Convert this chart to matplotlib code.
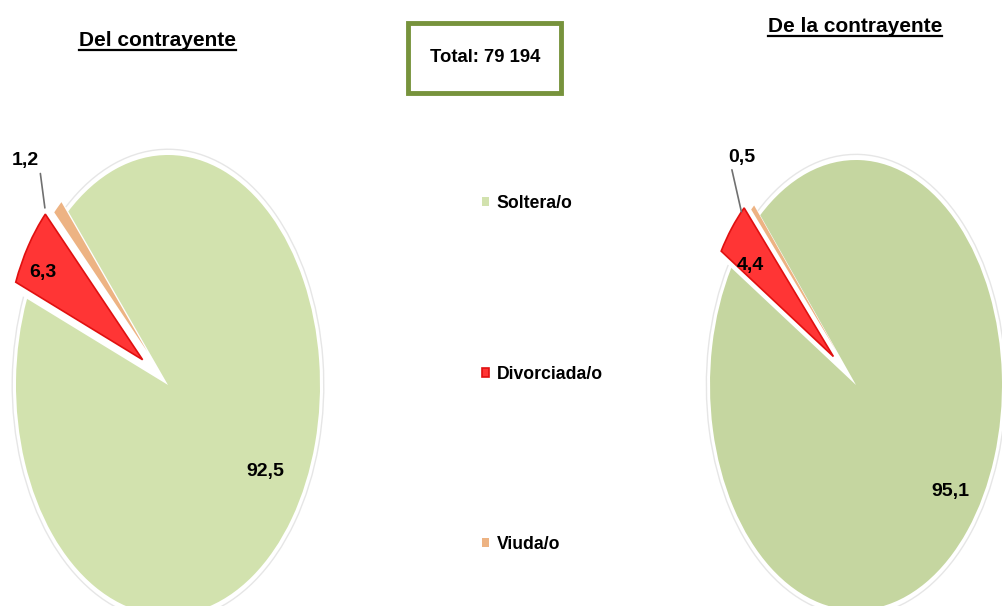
import matplotlib
matplotlib.use("Agg")
import matplotlib.pyplot as plt
from matplotlib.patches import Rectangle, Arc
from matplotlib.lines import Line2D
import numpy as np

# datos
categorias = ["Soltera/o", "Divorciada/o", "Viuda/o"]
del_contrayente = [92.5, 6.3, 1.2]
de_la_contrayente = [95.1, 4.4, 0.5]
etiquetas_izq = ["92,5", "6,3", "1,2"]
etiquetas_der = ["95,1", "4,4", "0,5"]
titulo_izq = "Del contrayente"
titulo_der = "De la contrayente"
total = "Total: 79 194"

W, H = 1003, 606
fuente = ["Liberation Sans", "DejaVu Sans"]
rojo = "#FF3535"
naranja = "#EDB383"

fig = plt.figure(figsize=(W / 100, H / 100), dpi=100)


def px(x, y):
    return x / W, 1 - y / H


def tarta(cx, cy, rx, ry, valores, etiquetas, verde, pos_etq, lineas):
    ax = fig.add_axes([(cx - rx) / W, 1 - (cy + ry) / H, 2 * rx / W, 2 * ry / H])
    wedges, _ = ax.pie(valores, colors=[verde, rojo, naranja], startangle=131,
                       counterclock=False, explode=[0, 0.2, 0.2],
                       wedgeprops=dict(linewidth=0))
    wedges[1].set_edgecolor("#E01010")
    wedges[1].set_linewidth(1.2)
    wedges[1].set_radius(0.9)
    wedges[2].set_radius(0.86)
    for w in wedges:
        w.set_clip_on(False)
    # borde gris tenue alrededor de la porción grande
    g = wedges[0]
    arco = Arc((0, 0), 2.05, 2.05, theta1=g.theta1, theta2=g.theta2,
               color="#E6E6E6", lw=1.0, clip_on=False)
    ax.add_patch(arco)
    ax.set_aspect("auto")
    ax.set_xlim(-1, 1)
    ax.set_ylim(-1, 1)
    ax.axis("off")
    for w, txt, (r, dt), linea in zip(wedges, etiquetas, pos_etq, lineas):
        ang = np.deg2rad((w.theta1 + w.theta2) / 2 + dt)
        cx0, cy0 = w.center
        pos = (cx0 + r * np.cos(ang), cy0 + r * np.sin(ang))
        if linea is None:
            ax.text(*pos, txt, ha="center", va="center", fontsize=14,
                    fontweight="bold", family=fuente, color="black")
        else:
            xy, rel = linea
            ax.annotate(txt, xy=xy, xytext=pos, ha="center", va="center",
                        fontsize=14, fontweight="bold", family=fuente,
                        arrowprops=dict(arrowstyle="-", color="#707070", lw=1.2,
                                        shrinkA=1, shrinkB=0, relpos=rel),
                        annotation_clip=False)
    return ax, wedges


ax1, w1 = tarta(168, 385, 152, 230, del_contrayente, etiquetas_izq, "#D2E2AE",
                [(0.74, 5), (0.76, 3.5), (1.155, 1)],
                [None, None, ((-0.81, 0.77), (1.05, 0.0))])
ax2, w2 = tarta(856, 385, 146, 225, de_la_contrayente, etiquetas_der, "#C5D6A0",
                [(0.80, 4), (0.70, 4), (1.08, -5)],
                [None, None, ((-0.785, 0.77), (0.1, 0.0))])

# títulos subrayados
for x, y, t in [(158, 41, titulo_izq), (855, 27, titulo_der)]:
    txt = fig.text(*px(x, y), t, ha="center", va="center", fontsize=15,
                   fontweight="bold", family=fuente)
    fig.canvas.draw()
    bb = txt.get_window_extent()
    yl = bb.y0 + 1
    fig.add_artist(Line2D([bb.x0 / W, bb.x1 / W], [yl / H, yl / H], color="black",
                          lw=1.6, transform=fig.transFigure))

# caja del total
x0, y0 = px(408, 93)
fig.add_artist(Rectangle((x0, y0), 153 / W, 70 / H, transform=fig.transFigure,
                         facecolor="white", edgecolor="#77933C", lw=3.5))
fig.text(*px(485, 58), total, ha="center", va="center", fontsize=13.3,
         fontweight="bold", family=fuente)

# leyenda
leg = fig.legend(w1, categorias, loc="center left", bbox_to_anchor=px(466, 374),
                 frameon=False, handlelength=0.4, handleheight=0.4, handletextpad=0.45,
                 labelspacing=8.7, prop=dict(family=fuente, size=12.7, weight="bold"))

fig.savefig("out.png", dpi=100, facecolor="white")
